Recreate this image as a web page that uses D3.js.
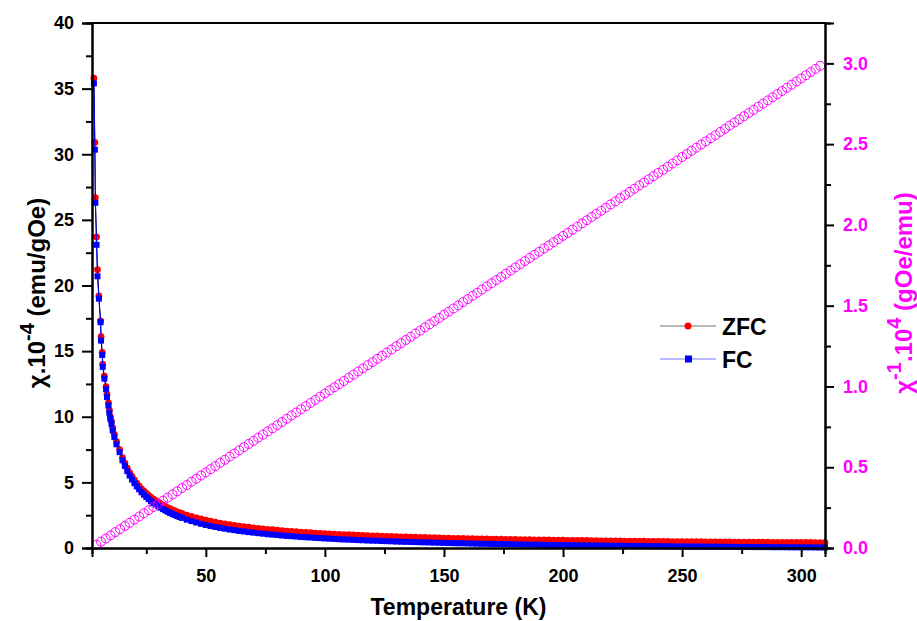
<!DOCTYPE html>
<html>
<head>
<meta charset="utf-8">
<script src="https://cdn.jsdelivr.net/npm/d3@7"></script>
<style>
  html, body { margin: 0; padding: 0; background: #fff; }
  svg { display: block; font-family: "Liberation Sans", Arial, sans-serif; }
</style>
</head>
<body>
<svg id="chart" width="917" height="621"></svg>
<script>
// Susceptibility chi (x1e-4 emu/gOe), ZFC and FC, versus temperature (K)
const tempK = [
  3.0, 3.4, 3.6, 4.1, 4.5, 5.1, 5.8, 6.0, 6.5, 6.7, 7.4, 8.1, 8.5, 9.1, 9.5, 9.9, 10.4, 10.9, 11.6, 12.5, 13.8,
  15, 16, 17, 18, 19, 20, 21, 22, 23, 24, 25, 26, 27, 28, 29, 30, 31, 32, 33, 34, 35, 36, 37, 38, 39, 40,
  42, 44, 46, 48, 50, 52, 54, 56, 58, 60, 62, 64, 66, 68, 70, 72, 74, 76, 78, 80,
  82, 84, 86, 88, 90, 92, 94, 96, 98, 100, 102, 104, 106, 108, 110, 112, 114, 116, 118, 120,
  122, 124, 126, 128, 130, 132, 134, 136, 138, 140, 142, 144, 146, 148, 150, 152, 154, 156, 158, 160,
  162, 164, 166, 168, 170, 172, 174, 176, 178, 180, 182, 184, 186, 188, 190, 192, 194, 196, 198, 200,
  202, 204, 206, 208, 210, 212, 214, 216, 218, 220, 222, 224, 226, 228, 230, 232, 234, 236, 238, 240,
  242, 244, 246, 248, 250, 252, 254, 256, 258, 260, 262, 264, 266, 268, 270, 272, 274, 276, 278, 280,
  282, 284, 286, 288, 290, 292, 294, 296, 298, 300, 302, 304, 306, 308, 310
];

const zfcValues = [
  35.8, 30.9, 26.7, 23.7, 21.2, 19.2, 17.3, 16.1, 14.9, 14.0, 13.1, 12.3, 11.7, 11.05, 10.5, 10.0, 9.65, 9.15, 8.65, 8.1, 7.5,
  6.88, 6.46, 6.08, 5.75, 5.45, 5.18, 4.94, 4.72, 4.51, 4.33, 4.16, 4.00, 3.86, 3.72, 3.60, 3.48, 3.37, 3.27, 3.17, 3.08, 2.99, 2.91, 2.84, 2.76, 2.70, 2.63,
  2.51, 2.40, 2.30, 2.21, 2.12, 2.04, 1.97, 1.90, 1.84, 1.78, 1.73, 1.67, 1.63, 1.58, 1.54, 1.50, 1.46, 1.42, 1.39, 1.36,
  1.32, 1.29, 1.27, 1.24, 1.21, 1.19, 1.17, 1.14, 1.12, 1.10, 1.08, 1.06, 1.04, 1.02, 1.01, 0.99, 0.97, 0.96, 0.94, 0.93,
  0.92, 0.90, 0.89, 0.88, 0.86, 0.85, 0.84, 0.83, 0.82, 0.81, 0.80, 0.79, 0.78, 0.77, 0.76, 0.75, 0.74, 0.73, 0.73, 0.72,
  0.71, 0.70, 0.69, 0.69, 0.68, 0.67, 0.67, 0.66, 0.65, 0.65, 0.64, 0.63, 0.63, 0.62, 0.62, 0.61, 0.61, 0.60, 0.60, 0.59,
  0.58, 0.58, 0.58, 0.57, 0.57, 0.56, 0.56, 0.55, 0.55, 0.54, 0.54, 0.54, 0.53, 0.53, 0.52, 0.52, 0.52, 0.51, 0.51, 0.51,
  0.50, 0.50, 0.49, 0.49, 0.49, 0.48, 0.48, 0.48, 0.48, 0.47, 0.47, 0.47, 0.46, 0.46, 0.46, 0.45, 0.45, 0.45, 0.45, 0.44,
  0.44, 0.44, 0.44, 0.43, 0.43, 0.43, 0.43, 0.42, 0.42, 0.42, 0.42, 0.42, 0.41, 0.41, 0.41
];

const fcValues = [
  35.4, 30.35, 26.3, 23.1, 20.7, 19.0, 17.2, 15.8, 14.7, 13.8, 12.9, 12.1, 11.5, 10.85, 10.3, 9.85, 9.45, 8.95, 8.45, 7.9, 7.3,
  6.68, 6.25, 5.86, 5.52, 5.22, 4.94, 4.69, 4.47, 4.25, 4.06, 3.89, 3.72, 3.58, 3.43, 3.31, 3.18, 3.07, 2.96, 2.86, 2.76, 2.67, 2.58, 2.51, 2.43, 2.36, 2.29,
  2.16, 2.05, 1.94, 1.84, 1.75, 1.67, 1.60, 1.53, 1.47, 1.41, 1.36, 1.30, 1.26, 1.21, 1.17, 1.13, 1.09, 1.05, 1.02, 0.99,
  0.95, 0.92, 0.90, 0.87, 0.84, 0.82, 0.80, 0.77, 0.75, 0.73, 0.71, 0.69, 0.67, 0.65, 0.64, 0.62, 0.60, 0.59, 0.57, 0.56,
  0.55, 0.53, 0.52, 0.51, 0.49, 0.48, 0.47, 0.46, 0.45, 0.44, 0.43, 0.42, 0.41, 0.40, 0.39, 0.38, 0.37, 0.36, 0.36, 0.35,
  0.34, 0.33, 0.32, 0.32, 0.31, 0.30, 0.30, 0.29, 0.28, 0.28, 0.27, 0.26, 0.26, 0.25, 0.25, 0.24, 0.24, 0.23, 0.23, 0.22,
  0.21, 0.21, 0.21, 0.20, 0.20, 0.19, 0.19, 0.18, 0.18, 0.17, 0.17, 0.17, 0.16, 0.16, 0.15, 0.15, 0.15, 0.14, 0.14, 0.14,
  0.13, 0.13, 0.12, 0.12, 0.12, 0.11, 0.11, 0.11, 0.11, 0.10, 0.10, 0.10, 0.09, 0.09, 0.09, 0.08, 0.08, 0.08, 0.08, 0.07,
  0.07, 0.07, 0.07, 0.06, 0.06, 0.06, 0.06, 0.05, 0.05, 0.05, 0.05, 0.05, 0.04, 0.04, 0.04
];

// Inverse susceptibility (x1e4 gOe/emu) versus temperature (K)
const invTempK = [
  4, 6, 8, 10, 12, 14, 16, 18, 20, 22, 24, 26, 28, 30, 32, 34, 36, 38, 40, 42,
  44, 46, 48, 50, 52, 54, 56, 58, 60, 62, 64, 66, 68, 70, 72, 74, 76, 78, 80, 82,
  84, 86, 88, 90, 92, 94, 96, 98, 100, 102, 104, 106, 108, 110, 112, 114, 116, 118, 120, 122,
  124, 126, 128, 130, 132, 134, 136, 138, 140, 142, 144, 146, 148, 150, 152, 154, 156, 158, 160, 162,
  164, 166, 168, 170, 172, 174, 176, 178, 180, 182, 184, 186, 188, 190, 192, 194, 196, 198, 200, 202,
  204, 206, 208, 210, 212, 214, 216, 218, 220, 222, 224, 226, 228, 230, 232, 234, 236, 238, 240, 242,
  244, 246, 248, 250, 252, 254, 256, 258, 260, 262, 264, 266, 268, 270, 272, 274, 276, 278, 280, 282,
  284, 286, 288, 290, 292, 294, 296, 298, 300, 302, 304, 306, 308
];

const invChiValues = [
  0.020, 0.039, 0.059, 0.078, 0.098, 0.117, 0.137, 0.156, 0.176, 0.195, 0.215, 0.234, 0.254, 0.273, 0.293, 0.312, 0.332, 0.351, 0.371, 0.390,
  0.410, 0.429, 0.449, 0.468, 0.488, 0.507, 0.527, 0.546, 0.566, 0.585, 0.605, 0.624, 0.644, 0.663, 0.683, 0.702, 0.722, 0.741, 0.761, 0.780,
  0.800, 0.820, 0.839, 0.859, 0.878, 0.898, 0.917, 0.937, 0.956, 0.976, 0.995, 1.015, 1.034, 1.054, 1.073, 1.093, 1.112, 1.132, 1.151, 1.171,
  1.190, 1.210, 1.229, 1.249, 1.268, 1.288, 1.307, 1.327, 1.346, 1.366, 1.385, 1.405, 1.424, 1.444, 1.463, 1.483, 1.502, 1.522, 1.541, 1.561,
  1.580, 1.600, 1.620, 1.639, 1.659, 1.678, 1.698, 1.717, 1.737, 1.756, 1.776, 1.795, 1.815, 1.834, 1.854, 1.873, 1.893, 1.912, 1.932, 1.951,
  1.971, 1.990, 2.010, 2.029, 2.049, 2.068, 2.088, 2.107, 2.127, 2.146, 2.166, 2.185, 2.205, 2.224, 2.244, 2.263, 2.283, 2.302, 2.322, 2.341,
  2.361, 2.380, 2.400, 2.420, 2.439, 2.459, 2.478, 2.498, 2.517, 2.537, 2.556, 2.576, 2.595, 2.615, 2.634, 2.654, 2.673, 2.693, 2.712, 2.732,
  2.751, 2.771, 2.790, 2.810, 2.829, 2.849, 2.868, 2.888, 2.907, 2.927, 2.946, 2.966, 2.985
];

// Axis ticks
const xMajorTicks = [50, 100, 150, 200, 250, 300];
const xMinorTicks = [25, 75, 125, 175, 225, 275];
const yLeftMajorTicks = [0, 5, 10, 15, 20, 25, 30, 35, 40];
const yLeftMinorTicks = [2.5, 7.5, 12.5, 17.5, 22.5, 27.5, 32.5, 37.5];
const yRightMajorTicks = [0, 0.5, 1.0, 1.5, 2.0, 2.5, 3.0];
const yRightMinorTicks = [0.25, 0.75, 1.25, 1.75, 2.25, 2.75];

const seriesNames = ["ZFC", "FC"];

const plot = { left: 92, right: 825, top: 23, bottom: 548 };
const MAGENTA = "#ff00ff";

const svg = d3.select("#chart");

const x = d3.scaleLinear().domain([2.2, 310]).range([plot.left, plot.right]);
const yL = d3.scaleLinear().domain([0, 40]).range([plot.bottom, plot.top]);
const yR = d3.scaleLinear().domain([0, 3.25]).range([plot.bottom, plot.top]);

const zfc = tempK.map((t, i) => ({ t, v: zfcValues[i] }));
const fc = tempK.map((t, i) => ({ t, v: fcValues[i] }));
const inv = invTempK.map((t, i) => ({ t, v: invChiValues[i] }));

const data = svg.append("g");

// ZFC: black connecting line with red round markers
data.append("path")
  .datum(zfc)
  .attr("fill", "none")
  .attr("stroke", "#000")
  .attr("stroke-width", 1)
  .attr("d", d3.line().x(d => x(d.t)).y(d => yL(d.v)));
data.append("g").selectAll("circle")
  .data(zfc).join("circle")
  .attr("cx", d => x(d.t)).attr("cy", d => yL(d.v))
  .attr("r", 3.4).attr("fill", "#ff0000");

// FC: blue connecting line with blue square markers
data.append("path")
  .datum(fc)
  .attr("fill", "none")
  .attr("stroke", "#0000ff")
  .attr("stroke-width", 1)
  .attr("d", d3.line().x(d => x(d.t)).y(d => yL(d.v)));
data.append("g").selectAll("rect")
  .data(fc).join("rect")
  .attr("x", d => x(d.t) - 3).attr("y", d => yL(d.v) - 3)
  .attr("width", 6).attr("height", 6).attr("fill", "#0000ff");

// Inverse susceptibility: open magenta circles
data.append("g").selectAll("circle")
  .data(inv).join("circle")
  .attr("cx", d => x(d.t)).attr("cy", d => yR(d.v))
  .attr("r", 4.5).attr("fill", "none")
  .attr("stroke", MAGENTA).attr("stroke-width", 1);

// Axes
function styleAxis(g, labelColor) {
  g.select(".domain").attr("stroke", "#000").attr("stroke-width", 2);
  g.selectAll(".tick line").attr("stroke", "#000").attr("stroke-width", 2);
  g.selectAll(".tick text")
    .attr("fill", labelColor)
    .style("font-size", "18px")
    .style("font-weight", "bold");
}

const xAxisMinor = svg.append("g")
  .attr("transform", `translate(0,${plot.bottom})`)
  .call(d3.axisBottom(x).tickValues(xMinorTicks).tickSize(6).tickFormat(""));
styleAxis(xAxisMinor, "#000");
const xAxis = svg.append("g")
  .attr("transform", `translate(0,${plot.bottom})`)
  .call(d3.axisBottom(x).tickValues(xMajorTicks).tickSize(9).tickPadding(12).tickFormat(d3.format("d")));
styleAxis(xAxis, "#000");

const yAxisMinor = svg.append("g")
  .attr("transform", `translate(${plot.left},0)`)
  .call(d3.axisLeft(yL).tickValues(yLeftMinorTicks).tickSize(6).tickFormat(""));
styleAxis(yAxisMinor, "#000");
const yAxis = svg.append("g")
  .attr("transform", `translate(${plot.left},0)`)
  .call(d3.axisLeft(yL).tickValues(yLeftMajorTicks).tickSize(10).tickPadding(8).tickFormat(d3.format("d")));
styleAxis(yAxis, "#000");

const yRAxisMinor = svg.append("g")
  .attr("transform", `translate(${plot.right},0)`)
  .call(d3.axisRight(yR).tickValues(yRightMinorTicks).tickSize(6).tickFormat(""));
styleAxis(yRAxisMinor, MAGENTA);
const yRAxis = svg.append("g")
  .attr("transform", `translate(${plot.right},0)`)
  .call(d3.axisRight(yR).tickValues(yRightMajorTicks).tickSize(9).tickPadding(9).tickFormat(d3.format(".1f")));
styleAxis(yRAxis, MAGENTA);

// Top frame line
svg.append("line")
  .attr("x1", plot.left - 1).attr("x2", plot.right + 1)
  .attr("y1", plot.top).attr("y2", plot.top)
  .attr("stroke", "#000").attr("stroke-width", 2);

// Axis titles
svg.append("text")
  .attr("x", (plot.left + plot.right) / 2)
  .attr("y", 615)
  .attr("text-anchor", "middle")
  .style("font-size", "23px").style("font-weight", "bold")
  .text("Temperature (K)");

const leftTitle = svg.append("text")
  .attr("transform", "translate(45,293) rotate(-90)")
  .attr("text-anchor", "middle")
  .style("font-size", "24px").style("font-weight", "bold")
  .attr("fill", "#000");
leftTitle.append("tspan").text("\u03C7.10");
leftTitle.append("tspan").attr("dy", "-0.55em").style("font-size", "20px").text("-4");
leftTitle.append("tspan").attr("dy", "0.46em").text(" (emu/gOe)");

const rightTitle = svg.append("text")
  .attr("transform", "translate(912,293) rotate(-90)")
  .attr("text-anchor", "middle")
  .style("font-size", "24px").style("font-weight", "bold")
  .attr("fill", MAGENTA);
rightTitle.append("tspan").text("\u03C7");
rightTitle.append("tspan").attr("dy", "-0.55em").style("font-size", "20px").text("-1");
rightTitle.append("tspan").attr("dy", "0.46em").text(".10");
rightTitle.append("tspan").attr("dy", "-0.55em").style("font-size", "20px").text("4");
rightTitle.append("tspan").attr("dy", "0.46em").text(" (gOe/emu)");

// Legend
const legend = svg.append("g");
const legendRows = [
  { name: seriesNames[0], y: 326, line: "#000", lineWidth: 1 },
  { name: seriesNames[1], y: 359, line: "#0000ff", lineWidth: 1 }
];
legendRows.forEach((row, i) => {
  legend.append("line")
    .attr("x1", 660).attr("x2", 716)
    .attr("y1", row.y).attr("y2", row.y)
    .attr("stroke", row.line).attr("stroke-width", row.lineWidth)
    .attr("stroke-opacity", 0.55);
  if (i === 0) {
    legend.append("circle").attr("cx", 688).attr("cy", row.y).attr("r", 3.5).attr("fill", "#ff0000");
  } else {
    legend.append("rect").attr("x", 685).attr("y", row.y - 3.5).attr("width", 7).attr("height", 7).attr("fill", "#0000ff");
  }
  legend.append("text")
    .attr("x", 722).attr("y", row.y + 9)
    .style("font-size", "23px").style("font-weight", "bold")
    .text(row.name);
});
</script>
</body>
</html>
